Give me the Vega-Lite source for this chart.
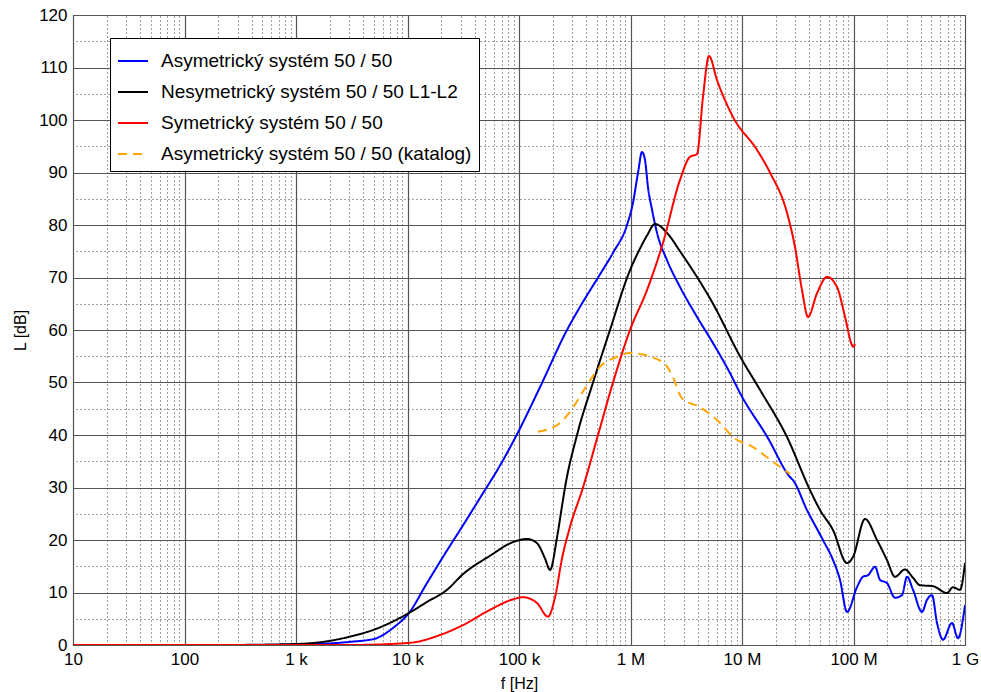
{
  "$schema": "https://vega.github.io/schema/vega-lite/v6.json",
  "width": 892,
  "height": 630,
  "autosize": {"type": "none"},
  "padding": {"left": 73, "top": 15, "right": 16, "bottom": 47},
  "background": "white",
  "config": {
    "font": "Liberation Sans",
    "view": {"stroke": "black", "strokeWidth": 1}
  },
  "layer": [
    {
      "data": {"values": [
        {"s":"Asymetrický systém 50 / 50","f":10,"L":0},{"s":"Asymetrický systém 50 / 50","f":300,"L":0},{"s":"Asymetrický systém 50 / 50","f":1000,"L":0.05},{"s":"Asymetrický systém 50 / 50","f":2018,"L":0.3},{"s":"Asymetrický systém 50 / 50","f":3051,"L":0.6},{"s":"Asymetrický systém 50 / 50","f":5114,"L":1.2},{"s":"Asymetrický systém 50 / 50","f":5666,"L":1.6},{"s":"Asymetrický systém 50 / 50","f":7568,"L":3.4},{"s":"Asymetrický systém 50 / 50","f":10310,"L":6.1},{"s":"Asymetrický systém 50 / 50","f":14960,"L":11.8},{"s":"Asymetrický systém 50 / 50","f":22600,"L":18},{"s":"Asymetrický systém 50 / 50","f":31480,"L":22.8},{"s":"Asymetrický systém 50 / 50","f":44670,"L":28},{"s":"Asymetrický systém 50 / 50","f":67610,"L":34.2},{"s":"Asymetrický systém 50 / 50","f":97950,"L":40.5},{"s":"Asymetrický systém 50 / 50","f":154200,"L":49.1},{"s":"Asymetrický systém 50 / 50","f":269400,"L":60},{"s":"Asymetrický systém 50 / 50","f":352400,"L":64.4},{"s":"Asymetrický systém 50 / 50","f":532600,"L":70.6},{"s":"Asymetrický systém 50 / 50","f":696600,"L":74.7},{"s":"Asymetrický systém 50 / 50","f":930400,"L":80},{"s":"Asymetrický systém 50 / 50","f":1052000,"L":84.2},{"s":"Asymetrický systém 50 / 50","f":1167000,"L":89.9},{"s":"Asymetrický systém 50 / 50","f":1268000,"L":93.9},{"s":"Asymetrický systém 50 / 50","f":1349000,"L":92.4},{"s":"Asymetrický systém 50 / 50","f":1435000,"L":87.2},{"s":"Asymetrický systém 50 / 50","f":1560000,"L":82.9},{"s":"Asymetrický systém 50 / 50","f":1730000,"L":78.5},{"s":"Asymetrický systém 50 / 50","f":2124000,"L":73.3},{"s":"Asymetrický systém 50 / 50","f":2780000,"L":68.2},{"s":"Asymetrický systém 50 / 50","f":3948000,"L":62.5},{"s":"Asymetrický systém 50 / 50","f":5495000,"L":57.5},{"s":"Asymetrický systém 50 / 50","f":7798000,"L":51.8},{"s":"Asymetrický systém 50 / 50","f":9594000,"L":48},{"s":"Asymetrický systém 50 / 50","f":17000000,"L":39.5},{"s":"Asymetrický systém 50 / 50","f":26940000,"L":32},{"s":"Asymetrický systém 50 / 50","f":28660000,"L":31.4},{"s":"Asymetrický systém 50 / 50","f":38280000,"L":25.7},{"s":"Asymetrický systém 50 / 50","f":53210000,"L":20},{"s":"Asymetrický systém 50 / 50","f":65460000,"L":16.2},{"s":"Asymetrický systém 50 / 50","f":75700000,"L":12.4},{"s":"Asymetrický systém 50 / 50","f":87500000,"L":6.3},{"s":"Asymetrický systém 50 / 50","f":107400000,"L":11},{"s":"Asymetrický systém 50 / 50","f":121600000,"L":13},{"s":"Asymetrický systém 50 / 50","f":134900000,"L":13.3},{"s":"Asymetrický systém 50 / 50","f":156000000,"L":14.9},{"s":"Asymetrický systém 50 / 50","f":173000000,"L":12.4},{"s":"Asymetrický systém 50 / 50","f":199500000,"L":11.8},{"s":"Asymetrický systém 50 / 50","f":235500000,"L":9},{"s":"Asymetrický systém 50 / 50","f":272200000,"L":9.5},{"s":"Asymetrický systém 50 / 50","f":302000000,"L":13},{"s":"Asymetrický systém 50 / 50","f":341900000,"L":10.5},{"s":"Asymetrický systém 50 / 50","f":411300000,"L":6.3},{"s":"Asymetrický systém 50 / 50","f":456000000,"L":8.6},{"s":"Asymetrický systém 50 / 50","f":505800000,"L":9.5},{"s":"Asymetrický systém 50 / 50","f":561000000,"L":4.2},{"s":"Asymetrický systém 50 / 50","f":635300000,"L":1},{"s":"Asymetrický systém 50 / 50","f":763900000,"L":4.2},{"s":"Asymetrický systém 50 / 50","f":865000000,"L":1.3},{"s":"Asymetrický systém 50 / 50","f":1000000000,"L":7.6},
        {"s":"Nesymetrický systém 50 / 50 L1-L2","f":10,"L":0},{"s":"Nesymetrický systém 50 / 50 L1-L2","f":200,"L":0},{"s":"Nesymetrický systém 50 / 50 L1-L2","f":1021,"L":0.2},{"s":"Nesymetrický systém 50 / 50 L1-L2","f":2018,"L":0.8},{"s":"Nesymetrický systém 50 / 50 L1-L2","f":3051,"L":1.6},{"s":"Nesymetrický systém 50 / 50 L1-L2","f":5114,"L":3.0},{"s":"Nesymetrický systém 50 / 50 L1-L2","f":10310,"L":6.1},{"s":"Nesymetrický systém 50 / 50 L1-L2","f":14960,"L":8.2},{"s":"Nesymetrický systém 50 / 50 L1-L2","f":22600,"L":10.5},{"s":"Nesymetrický systém 50 / 50 L1-L2","f":31480,"L":13.5},{"s":"Nesymetrický systém 50 / 50 L1-L2","f":54950,"L":17},{"s":"Nesymetrický systém 50 / 50 L1-L2","f":88310,"L":19.6},{"s":"Nesymetrický systém 50 / 50 L1-L2","f":118000,"L":20.2},{"s":"Nesymetrický systém 50 / 50 L1-L2","f":144900,"L":19.4},{"s":"Nesymetrický systém 50 / 50 L1-L2","f":171000,"L":16.5},{"s":"Nesymetrický systém 50 / 50 L1-L2","f":189700,"L":14.3},{"s":"Nesymetrický systém 50 / 50 L1-L2","f":219300,"L":20.5},{"s":"Nesymetrický systém 50 / 50 L1-L2","f":243200,"L":26.5},{"s":"Nesymetrický systém 50 / 50 L1-L2","f":258600,"L":30},{"s":"Nesymetrický systém 50 / 50 L1-L2","f":331300,"L":40},{"s":"Nesymetrický systém 50 / 50 L1-L2","f":461100,"L":50},{"s":"Nesymetrický systém 50 / 50 L1-L2","f":654600,"L":60},{"s":"Nesymetrický systém 50 / 50 L1-L2","f":990100,"L":71.4},{"s":"Nesymetrický systém 50 / 50 L1-L2","f":1216000,"L":75.5},{"s":"Nesymetrický systém 50 / 50 L1-L2","f":1406000,"L":78},{"s":"Nesymetrický systém 50 / 50 L1-L2","f":1660000,"L":80.2},{"s":"Nesymetrický systém 50 / 50 L1-L2","f":2124000,"L":78.5},{"s":"Nesymetrický systém 50 / 50 L1-L2","f":2780000,"L":75},{"s":"Nesymetrický systém 50 / 50 L1-L2","f":5495000,"L":65},{"s":"Nesymetrický systém 50 / 50 L1-L2","f":9594000,"L":55},{"s":"Nesymetrický systém 50 / 50 L1-L2","f":14500000,"L":48.6},{"s":"Nesymetrický systém 50 / 50 L1-L2","f":25350000,"L":39.6},{"s":"Nesymetrický systém 50 / 50 L1-L2","f":40740000,"L":29.5},{"s":"Nesymetrický systém 50 / 50 L1-L2","f":50120000,"L":25.7},{"s":"Nesymetrický systém 50 / 50 L1-L2","f":65460000,"L":21.9},{"s":"Nesymetrický systém 50 / 50 L1-L2","f":87500000,"L":15.6},{"s":"Nesymetrický systém 50 / 50 L1-L2","f":99080000,"L":16.8},{"s":"Nesymetrický systém 50 / 50 L1-L2","f":126800000,"L":24},{"s":"Nesymetrický systém 50 / 50 L1-L2","f":162600000,"L":20},{"s":"Nesymetrický systém 50 / 50 L1-L2","f":199500000,"L":16.2},{"s":"Nesymetrický systém 50 / 50 L1-L2","f":235500000,"L":13},{"s":"Nesymetrický systém 50 / 50 L1-L2","f":289700000,"L":14.4},{"s":"Nesymetrický systém 50 / 50 L1-L2","f":341900000,"L":12.8},{"s":"Nesymetrický systém 50 / 50 L1-L2","f":394500000,"L":11.4},{"s":"Nesymetrický systém 50 / 50 L1-L2","f":516400000,"L":11.2},{"s":"Nesymetrický systém 50 / 50 L1-L2","f":690200000,"L":9.9},{"s":"Nesymetrický systém 50 / 50 L1-L2","f":779900000,"L":11},{"s":"Nesymetrický systém 50 / 50 L1-L2","f":901600000,"L":10.5},{"s":"Nesymetrický systém 50 / 50 L1-L2","f":1000000000,"L":15.6},
        {"s":"Symetrický systém 50 / 50","f":10,"L":0},{"s":"Symetrický systém 50 / 50","f":3000,"L":0},{"s":"Symetrický systém 50 / 50","f":10310,"L":0.4},{"s":"Symetrický systém 50 / 50","f":19550,"L":1.9},{"s":"Symetrický systém 50 / 50","f":31480,"L":3.8},{"s":"Symetrický systém 50 / 50","f":54950,"L":6.7},{"s":"Symetrický systém 50 / 50","f":88310,"L":8.7},{"s":"Symetrický systém 50 / 50","f":108600,"L":9.1},{"s":"Symetrický systém 50 / 50","f":144900,"L":8},{"s":"Symetrický systém 50 / 50","f":182000,"L":5.4},{"s":"Symetrický systém 50 / 50","f":210400,"L":9.1},{"s":"Symetrický systém 50 / 50","f":243200,"L":16.5},{"s":"Symetrický systém 50 / 50","f":286600,"L":22.5},{"s":"Symetrický systém 50 / 50","f":374900,"L":30},{"s":"Symetrický systém 50 / 50","f":511300,"L":40},{"s":"Symetrický systém 50 / 50","f":696600,"L":50},{"s":"Symetrický systém 50 / 50","f":990100,"L":60},{"s":"Symetrický systém 50 / 50","f":1406000,"L":67.6},{"s":"Symetrický systém 50 / 50","f":1955000,"L":76.6},{"s":"Symetrický systém 50 / 50","f":2780000,"L":88.6},{"s":"Symetrický systém 50 / 50","f":3420000,"L":93},{"s":"Symetrický systém 50 / 50","f":3948000,"L":93.5},{"s":"Symetrický systém 50 / 50","f":4467000,"L":104.4},{"s":"Symetrický systém 50 / 50","f":5058000,"L":112.2},{"s":"Symetrický systém 50 / 50","f":5970000,"L":107.6},{"s":"Symetrický systém 50 / 50","f":8298000,"L":100.6},{"s":"Symetrický systém 50 / 50","f":13640000,"L":94.3},{"s":"Symetrický systém 50 / 50","f":17820000,"L":90},{"s":"Symetrický systém 50 / 50","f":25350000,"L":82.3},{"s":"Symetrický systém 50 / 50","f":29860000,"L":75.8},{"s":"Symetrický systém 50 / 50","f":34530000,"L":67.6},{"s":"Symetrický systém 50 / 50","f":39080000,"L":62.5},{"s":"Symetrický systém 50 / 50","f":47100000,"L":67},{"s":"Symetrický systém 50 / 50","f":57810000,"L":70.1},{"s":"Symetrický systém 50 / 50","f":71120000,"L":68.2},{"s":"Symetrický systém 50 / 50","f":83950000,"L":62.5},{"s":"Symetrický systém 50 / 50","f":97050000,"L":57.1},{"s":"Symetrický systém 50 / 50","f":99080000,"L":56.8},{"s":"Symetrický systém 50 / 50","f":103100000,"L":57.3},
        {"s":"Asymetrický systém 50 / 50 (katalog)","f":148000,"L":40.6},{"s":"Asymetrický systém 50 / 50 (katalog)","f":233300,"L":42.3},{"s":"Asymetrický systém 50 / 50 (katalog)","f":286600,"L":44.4},{"s":"Asymetrický systém 50 / 50 (katalog)","f":407400,"L":49.5},{"s":"Asymetrický systém 50 / 50 (katalog)","f":532600,"L":53},{"s":"Asymetrický systém 50 / 50 (katalog)","f":756800,"L":54.9},{"s":"Asymetrický systém 50 / 50 (katalog)","f":990100,"L":55.6},{"s":"Asymetrický systém 50 / 50 (katalog)","f":1955000,"L":53.9},{"s":"Asymetrický systém 50 / 50 (katalog)","f":2404000,"L":51},{"s":"Asymetrický systém 50 / 50 (katalog)","f":2897000,"L":47},{"s":"Asymetrický systém 50 / 50 (katalog)","f":4198000,"L":45.3},{"s":"Asymetrický systém 50 / 50 (katalog)","f":6353000,"L":42.3},{"s":"Asymetrický systém 50 / 50 (katalog)","f":8298000,"L":39.6},{"s":"Asymetrický systém 50 / 50 (katalog)","f":12560000,"L":37.7},{"s":"Asymetrický systém 50 / 50 (katalog)","f":18970000,"L":34.9},{"s":"Asymetrický systém 50 / 50 (katalog)","f":26940000,"L":32.6}
      ]},
      "mark": {"type": "line", "strokeWidth": 2, "interpolate": "monotone", "clip": true},
      "encoding": {
        "x": {
          "field": "f", "type": "quantitative",
          "scale": {"type": "log", "domain": [10, 1000000000], "nice": false},
          "axis": {
            "orient": "bottom",
            "values": [10, 100, 1000, 10000, 100000, 1000000, 10000000, 100000000, 1000000000],
            "labelExpr": "datum.value >= 1e9 ? '1 G' : datum.value >= 1e6 ? (datum.value/1e6) + ' M' : datum.value >= 1e3 ? (datum.value/1e3) + ' k' : '' + datum.value",
            "labelFontSize": 17, "labelColor": "black", "labelPadding": 6, "labelFlush": false, "labelOverlap": false,
            "ticks": false, "domain": false,
            "grid": true, "gridColor": "#555", "gridWidth": 1.2,
            "title": "f [Hz]", "titleFontSize": 16, "titleFontWeight": "normal", "titleColor": "black", "titlePadding": 8
          }
        },
        "y": {
          "field": "L", "type": "quantitative",
          "scale": {"domain": [0, 120], "nice": false, "zero": false},
          "axis": {
            "orient": "left",
            "values": [0, 10, 20, 30, 40, 50, 60, 70, 80, 90, 100, 110, 120],
            "labelFontSize": 17, "labelColor": "black", "labelPadding": 6, "labelFlush": false, "labelOverlap": false,
            "ticks": false, "domain": false,
            "grid": true, "gridColor": "#555", "gridWidth": 1.2,
            "title": "L [dB]", "titleFontSize": 16, "titleFontWeight": "normal", "titleColor": "black", "titlePadding": 10
          }
        },
        "color": {
          "field": "s", "type": "nominal",
          "scale": {
            "domain": ["Asymetrický systém 50 / 50", "Nesymetrický systém 50 / 50 L1-L2", "Symetrický systém 50 / 50", "Asymetrický systém 50 / 50 (katalog)"],
            "range": ["#0000ff", "#000000", "#ff0000", "#ffa500"]
          },
          "legend": {
            "title": null, "orient": "none", "legendX": 37, "legendY": 23,
            "fillColor": "white", "strokeColor": "black", "padding": 7, "cornerRadius": 0,
            "labelFontSize": 19, "labelColor": "black", "labelLimit": 500, "labelOffset": 12,
            "symbolType": "stroke", "symbolSize": 900, "symbolStrokeWidth": 2, "rowPadding": 5
          }
        },
        "strokeDash": {
          "field": "s", "type": "nominal",
          "scale": {
            "domain": ["Asymetrický systém 50 / 50", "Nesymetrický systém 50 / 50 L1-L2", "Symetrický systém 50 / 50", "Asymetrický systém 50 / 50 (katalog)"],
            "range": [[1, 0], [1, 0], [1, 0], [9, 6]]
          },
          "legend": {
            "title": null, "orient": "none", "legendX": 37, "legendY": 23,
            "fillColor": "white", "strokeColor": "black", "padding": 7, "cornerRadius": 0,
            "labelFontSize": 19, "labelColor": "black", "labelLimit": 500, "labelOffset": 12,
            "symbolType": "stroke", "symbolSize": 900, "symbolStrokeWidth": 2, "rowPadding": 5
          }
        }
      }
    },
    {
      "data": {"values": [{"f": 10, "L": 0}]},
      "mark": {"type": "point", "opacity": 0},
      "encoding": {
        "x": {
          "field": "f", "type": "quantitative",
          "scale": {"type": "log", "domain": [10, 1000000000], "nice": false},
          "axis": {
            "orient": "top",
            "values": [20,30,40,50,60,70,80,90,200,300,400,500,600,700,800,900,2000,3000,4000,5000,6000,7000,8000,9000,20000,30000,40000,50000,60000,70000,80000,90000,200000,300000,400000,500000,600000,700000,800000,900000,2000000,3000000,4000000,5000000,6000000,7000000,8000000,9000000,20000000,30000000,40000000,50000000,60000000,70000000,80000000,90000000,200000000,300000000,400000000,500000000,600000000,700000000,800000000,900000000],
            "labels": false, "ticks": false, "domain": false, "title": null,
            "grid": true, "gridColor": "#444", "gridDash": [1, 3], "gridWidth": 1
          }
        },
        "y": {
          "field": "L", "type": "quantitative",
          "scale": {"domain": [0, 120], "nice": false, "zero": false},
          "axis": {
            "orient": "right",
            "values": [5, 15, 25, 35, 45, 55, 65, 75, 85, 95, 105, 115],
            "labels": false, "ticks": false, "domain": false, "title": null,
            "grid": true, "gridColor": "#444", "gridDash": [1, 3], "gridWidth": 1
          }
        }
      }
    }
  ],
  "resolve": {"axis": {"x": "independent", "y": "independent"}}
}
